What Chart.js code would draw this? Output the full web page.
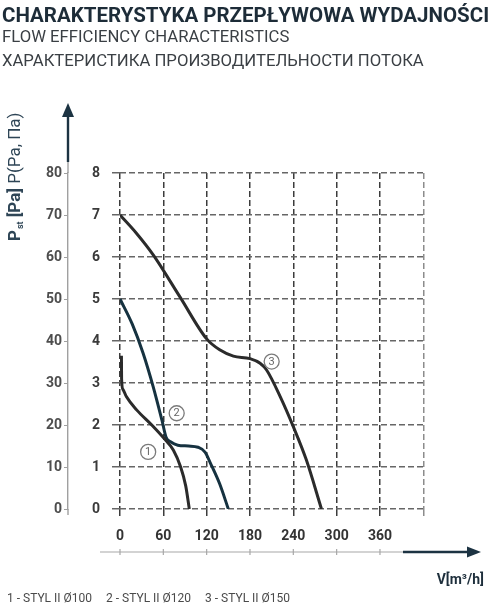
<!DOCTYPE html>
<html>
<head>
<meta charset="utf-8">
<script src="https://cdn.jsdelivr.net/npm/chart.js@4"></script>
<style>
  body { margin: 0; background: #fff; }
  #wrap { position: relative; width: 501px; height: 611px; }
  .t { position: absolute; left: 2px; white-space: nowrap; font-family: Roboto; line-height: 1; }
  #t1 { top: 5px; font-size: 20.5px; font-weight: bold; color: #1d2c38; }
  #t2 { top: 29px; font-size: 16.7px; color: #3a3f44; }
  #t3 { top: 53px; font-size: 16.7px; color: #3a3f44; }
  canvas { position: absolute; left: 0; top: 0; }
</style>
</head>
<body>
<div id="wrap">
  <canvas id="myChart" width="501" height="611"></canvas>
  <div class="t" id="t1">CHARAKTERYSTYKA PRZEPŁYWOWA WYDAJNOŚCI</div>
  <div class="t" id="t2">FLOW EFFICIENCY CHARACTERISTICS</div>
  <div class="t" id="t3">ХАРАКТЕРИСТИКА ПРОИЗВОДИТЕЛЬНОСТИ ПОТОКА</div>
</div>
<script>
// series names (legend under the chart)
const seriesNames = ['1 - STYL II Ø100', '2 - STYL II Ø120', '3 - STYL II Ø150']

// flow V [m3/h] and static pressure [Pa]
const flow1 = [2, 2.2, 4, 9, 23, 44, 60, 74, 84, 91, 96]
const press1 = [36.5, 31, 28.5, 26.7, 23.6, 20, 17, 14, 10, 5.5, 0]

const flow2 = [0, 17, 32, 46, 58, 64, 70, 80, 95, 108, 118, 125, 138, 150]
const press2 = [50, 44, 37.1, 29.1, 21.2, 17.0, 16.0, 15.2, 15.0, 14.7, 13.5, 11, 6, 0]

const flow3 = [0, 23, 46, 83, 120, 138, 157, 180, 194, 203, 222, 240, 258, 279]
const press3 = [70, 65.6, 60.5, 50.5, 40.5, 37.9, 36.4, 35.8, 34.7, 33.1, 26.7, 19.6, 11.7, 0]

// circled curve numbers, placed in data units (flow, Pa)
const markFlow = [39, 78.5, 210]
const markPress = [13.6, 22.8, 35.1]

// axis ranges / ticks
const flowMax = 420
const flowStep = 60
const flowLabelMax = 360
const pressMax = 80
const pressStep = 10
const scaleMax = 8

const lineColors = ['#2b2b2b', '#163240', '#2b2b2b']

function toPoints(xs, ys) {
    var pts = []
    for (var i = 0; i < xs.length; i++) {
        pts.push({x: xs[i], y: ys[i]})
    }
    return pts
}

const flows = [flow1, flow2, flow3]
const presses = [press1, press2, press3]
const datasets = []
for (var i = 0; i < seriesNames.length; i++) {
    datasets.push({
        label: seriesNames[i],
        data: toPoints(flows[i], presses[i]),
        yAxisID: 'y2',
        borderColor: lineColors[i],
        borderWidth: 3,
        pointRadius: 0,
        fill: false,
        cubicInterpolationMode: 'monotone'
    })
}

const extras = {
    id: 'extras',
    afterDraw(chart) {
        const ctx = chart.ctx
        const area = chart.chartArea
        const xs = chart.scales.x
        const ps = chart.scales.y2
        const ax = ps.right
        ctx.save()

        // pressure axis: thin gray below, dark with arrow on top
        ctx.strokeStyle = '#a0a0a0'
        ctx.lineWidth = 1.4
        ctx.beginPath()
        ctx.moveTo(ax, area.bottom)
        ctx.lineTo(ax, area.bottom + 6)
        ctx.moveTo(ax, area.top)
        ctx.lineTo(ax, area.top - 11)
        ctx.stroke()
        ctx.strokeStyle = '#1c3342'
        ctx.fillStyle = '#1c3342'
        ctx.lineWidth = 2.4
        ctx.beginPath()
        ctx.moveTo(ax, area.top - 11)
        ctx.lineTo(ax, 114)
        ctx.stroke()
        ctx.beginPath()
        ctx.moveTo(ax, 103)
        ctx.lineTo(ax - 6, 117)
        ctx.lineTo(ax + 6, 117)
        ctx.closePath()
        ctx.fill()

        // flow axis under the labels
        const ay = area.bottom + 43
        ctx.strokeStyle = '#a8a8a8'
        ctx.lineWidth = 1.2
        ctx.beginPath()
        ctx.moveTo(100, ay)
        ctx.lineTo(403, ay)
        xs.ticks.forEach(function (t) {
            if (t.value <= flowLabelMax) {
                var px = xs.getPixelForValue(t.value)
                ctx.moveTo(px, ay - 3)
                ctx.lineTo(px, ay + 3)
            }
        })
        ctx.stroke()
        ctx.strokeStyle = '#1c3342'
        ctx.lineWidth = 2.6
        ctx.beginPath()
        ctx.moveTo(403, ay)
        ctx.lineTo(470, ay)
        ctx.stroke()
        ctx.beginPath()
        ctx.moveTo(481, ay)
        ctx.lineTo(467, ay - 5.5)
        ctx.lineTo(467, ay + 5.5)
        ctx.closePath()
        ctx.fill()

        // flow axis title
        ctx.fillStyle = '#1e2f3c'
        ctx.font = 'bold 14px Roboto'
        ctx.textAlign = 'right'
        ctx.textBaseline = 'alphabetic'
        ctx.fillText('V[m³/h]', 484, 584)

        // pressure axis title, rotated
        ctx.save()
        ctx.translate(20, 241)
        ctx.rotate(-Math.PI / 2)
        ctx.textAlign = 'left'
        ctx.fillStyle = '#2e4556'
        var x = 0
        ctx.font = 'bold 17px Roboto'
        ctx.fillText('P', x, 0)
        x += ctx.measureText('P').width + 1
        ctx.font = 'bold 9px Roboto'
        ctx.fillText('st', x, 3)
        x += ctx.measureText('st').width + 4
        ctx.font = 'bold 17px Roboto'
        ctx.fillText('[Pa]', x, 0)
        x += ctx.measureText('[Pa] ').width
        ctx.font = '17px Roboto'
        ctx.fillText('P(Pa, Па)', x, 0)
        ctx.restore()

        // legend line
        ctx.font = '12px Roboto'
        ctx.fillStyle = '#4a4a4a'
        ctx.textAlign = 'left'
        var lx = 7
        seriesNames.forEach(function (name) {
            ctx.fillText(name, lx, 602)
            lx += ctx.measureText(name).width + 14
        })

        // circled numbers
        ctx.font = '11px Roboto'
        ctx.textAlign = 'center'
        ctx.textBaseline = 'middle'
        for (var i = 0; i < markFlow.length; i++) {
            var cx = xs.getPixelForValue(markFlow[i])
            var cy = ps.getPixelForValue(markPress[i])
            ctx.beginPath()
            ctx.arc(cx, cy, 7.5, 0, Math.PI * 2)
            ctx.fillStyle = '#fff'
            ctx.fill()
            ctx.strokeStyle = '#7a7a7a'
            ctx.lineWidth = 1.3
            ctx.stroke()
            ctx.fillStyle = '#666'
            ctx.fillText(String(i + 1), cx, cy + 0.5)
        }
        ctx.restore()
    }
}

Chart.defaults.font.family = 'Roboto'

const ctx = document.getElementById('myChart')
const myChart = new Chart(ctx, {
    type: 'line',
    data: { datasets: datasets },
    options: {
        responsive: false,
        animation: false,
        layout: { padding: { left: 0, right: 77.7, top: 173, bottom: 0 } },
        plugins: {
            legend: { display: false },
            tooltip: { enabled: false }
        },
        scales: {
            x: {
                type: 'linear',
                min: 0,
                max: flowMax,
                border: { display: false, dash: [6, 3] },
                grid: {
                    color: function (c) { return c.tick && c.tick.value === flowMax ? '#8c8c8c' : '#3c3c3c' },
                    lineWidth: 1.5,
                    tickLength: 7
                },
                ticks: {
                    stepSize: flowStep,
                    padding: 12,
                    color: '#333',
                    font: { size: 14, weight: 'bold' },
                    maxRotation: 0,
                    callback: function (v) { return v <= flowLabelMax ? v : '' }
                },
                afterFit: function (s) { s.height = 102 }
            },
            y: {
                position: 'left',
                weight: 0,
                min: 0,
                max: scaleMax,
                border: { display: false, dash: [6, 3] },
                grid: {
                    color: '#666',
                    lineWidth: 1.5,
                    tickLength: 8
                },
                ticks: {
                    stepSize: 1,
                    padding: 12,
                    color: '#3a3a3a',
                    font: { size: 14, weight: 'bold' }
                },
                afterFit: function (s) { s.width = 52 }
            },
            y2: {
                position: 'left',
                weight: 1,
                min: 0,
                max: pressMax,
                border: { display: true, color: '#a0a0a0', width: 1.4 },
                grid: {
                    drawOnChartArea: false,
                    color: '#a0a0a0',
                    tickLength: 4
                },
                ticks: {
                    stepSize: pressStep,
                    padding: 2,
                    color: '#4d4d4d',
                    font: { size: 14, weight: 'bold' }
                },
                afterFit: function (s) { s.width = 68 }
            }
        }
    },
    plugins: [extras]
})
</script>
</body>
</html>
